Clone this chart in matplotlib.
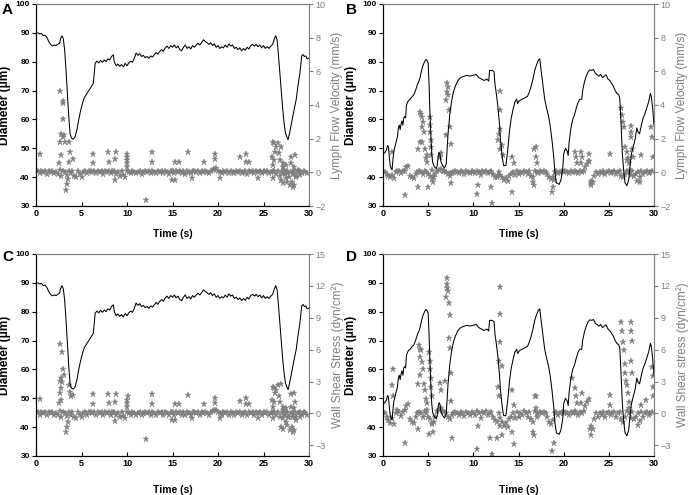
import numpy as np
import matplotlib
matplotlib.use("Agg")
import matplotlib.pyplot as plt

plt.rcParams['font.family'] = ['Liberation Sans', 'DejaVu Sans']

# ---------------- Diameter traces (um) ----------------
diamA_t = [0.2,0.4,0.6,0.8,1.0,1.2,1.4,1.6,1.8,2.0,2.2,2.4,2.6,2.7,2.85,3.0,3.15,3.3,3.45,3.6,3.75,3.9,4.1,4.3,4.5,4.7,4.9,5.1,5.3,5.5,5.7,5.9,6.1,6.3,6.4,6.5,6.7,6.9,7.1,7.3,7.5,7.7,7.9,8.1,8.3,8.5,8.6,8.8,9.0,9.2,9.4,9.6,9.8,10.0,10.2,10.4,10.6,10.8,11.0,11.2,11.4,11.6,11.8,12.0,12.2,12.4,12.6,12.8,13.0,13.2,13.4,13.6,13.8,14.0,14.2,14.4,14.6,14.8,15.0,15.2,15.4,15.6,15.8,16.0,16.2,16.4,16.6,16.8,17.0,17.2,17.4,17.6,17.8,18.0,18.2,18.4,18.6,18.8,19.0,19.2,19.4,19.6,19.8,20.0,20.2,20.4,20.6,20.8,21.0,21.2,21.4,21.6,21.8,22.0,22.2,22.4,22.6,22.8,23.0,23.2,23.4,23.6,23.8,24.0,24.2,24.4,24.6,24.8,25.0,25.2,25.4,25.6,25.8,26.0,26.2,26.35,26.5,26.65,26.8,26.95,27.1,27.25,27.4,27.55,27.7,27.85,28.0,28.2,28.4,28.6,28.8,29.0,29.1,29.2,29.35,29.5,29.65,29.8,29.95]
diamA_v = [90.0,89.6,89.8,89.0,89.2,88.4,87.0,86.0,85.5,85.8,85.6,86.0,86.5,88.0,89.0,88.0,84.0,77.0,69.0,61.0,55.0,53.5,53.2,54.0,56.5,60.0,63.0,65.5,67.5,68.5,69.5,70.5,71.5,72.5,76.0,79.5,80.2,79.6,80.5,79.8,80.6,80.0,81.0,80.6,81.8,82.4,80.0,78.6,79.2,78.4,79.0,78.2,79.4,78.6,79.6,80.2,79.8,81.2,83.0,82.2,82.8,81.8,82.2,81.4,81.8,81.2,82.0,81.6,82.4,83.2,82.6,83.6,84.2,83.6,84.8,85.4,84.6,85.6,85.0,85.8,84.8,85.4,84.2,83.8,85.0,85.8,84.6,85.2,84.4,85.6,85.0,85.8,86.4,85.8,86.6,87.6,87.0,86.6,86.0,86.6,85.6,86.2,85.0,85.6,84.6,85.2,84.8,85.8,85.0,86.2,85.4,85.8,84.6,85.0,84.2,84.8,83.8,84.6,84.0,85.0,84.4,85.6,86.0,85.4,86.0,85.2,85.8,84.8,85.6,84.6,85.2,84.6,85.4,86.0,88.0,89.0,87.5,82.0,76.0,70.0,64.0,59.0,55.5,54.0,53.0,55.0,57.5,61.0,64.0,67.0,72.0,76.0,79.0,82.0,82.5,81.8,82.0,81.0,81.2]

diamB_t = [0.0,0.2,0.4,0.5,0.6,0.7,0.8,0.9,1.0,1.1,1.2,1.4,1.6,1.7,1.8,1.9,2.0,2.1,2.2,2.3,2.4,2.5,2.6,2.8,3.0,3.2,3.4,3.6,3.8,4.0,4.1,4.2,4.4,4.6,4.75,4.9,5.0,5.1,5.2,5.3,5.4,5.5,5.7,5.9,6.0,6.1,6.2,6.3,6.4,6.6,6.8,7.0,7.1,7.2,7.4,7.6,7.8,8.0,8.3,8.6,9.0,9.3,9.6,10.0,10.3,10.6,10.9,11.2,11.5,11.7,11.8,12.1,12.3,12.4,12.5,12.7,12.9,13.0,13.2,13.35,13.6,13.8,14.0,14.2,14.4,14.6,14.8,14.9,15.1,15.4,15.7,16.0,16.2,16.4,16.6,16.8,17.0,17.2,17.35,17.5,17.7,17.9,18.1,18.3,18.5,18.7,18.9,19.05,19.2,19.5,19.7,19.9,20.0,20.2,20.4,20.5,20.6,20.8,21.0,21.2,21.4,21.6,21.8,22.0,22.1,22.3,22.5,22.7,22.9,23.1,23.3,23.5,23.7,23.9,24.1,24.3,24.5,24.7,24.9,25.1,25.3,25.5,25.7,25.9,26.1,26.2,26.3,26.4,26.5,26.65,26.8,27.0,27.2,27.35,27.5,27.7,27.9,28.1,28.25,28.4,28.6,28.8,29.0,29.2,29.4,29.6,29.7,29.85,30.0]
diamB_v = [48.0,48.5,49.5,51.0,50.5,47.0,44.0,43.0,42.5,46.0,49.0,51.5,54.0,57.0,58.0,56.5,58.5,59.5,58.0,60.5,61.0,60.5,65.0,66.5,67.0,67.8,68.5,70.0,72.0,73.5,74.5,76.0,78.5,80.0,80.8,80.3,79.5,72.0,62.0,54.0,48.0,45.0,43.5,43.0,44.0,47.0,48.5,48.0,45.5,44.0,43.2,44.5,50.0,55.0,62.0,66.5,69.5,71.5,73.5,74.5,75.0,75.3,75.0,75.3,75.6,74.5,74.0,73.5,74.0,73.3,77.0,77.0,76.5,72.0,70.0,65.0,58.0,53.0,47.0,44.0,44.0,49.0,56.0,60.5,63.5,66.0,67.0,65.5,66.5,67.0,67.5,68.0,69.5,71.5,74.0,77.0,79.0,80.5,81.0,77.0,72.0,67.0,64.0,61.5,58.0,53.0,47.0,41.0,38.0,37.5,39.0,43.0,48.0,50.0,49.0,47.5,52.0,57.0,60.0,61.5,64.0,66.0,67.0,67.0,70.0,73.0,75.0,76.5,77.2,77.0,77.3,76.0,75.5,75.0,75.6,74.5,75.0,75.5,74.0,73.5,72.5,71.5,70.0,69.0,68.5,67.5,62.0,55.0,48.0,42.0,38.0,37.0,39.0,44.0,48.0,50.5,53.0,57.0,55.5,55.0,58.0,60.5,62.0,64.0,66.0,69.0,68.0,64.0,58.0]

# ---------------- Baseline samples (every 0.2 s, 0.2 .. 29.8 s) ----------------
base_t = np.round(np.arange(0.2, 29.81, 0.2), 1)

velA_base = [0.05,-0.05,0.1,0.0,0.08,-0.08,0.05,0.0,0.1,-0.05,
             0.0,-0.1,0.15,-0.2,0.1,0.0,-0.15,0.1,-0.05,0.05,
             -0.2,-0.3,0.05,-0.1,-0.25,0.0,0.1,-0.05,0.05,0.08,
             0.0,0.1,-0.05,0.05,0.0,0.1,-0.1,0.05,0.0,0.08,
             -0.05,0.05,0.1,-0.1,0.0,-0.2,0.05,-0.15,-0.3,0.1,
             0.0,-0.05,0.05,0.0,-0.05,0.0,0.05,-0.1,0.0,0.05,
             0.0,0.05,-0.05,0.1,0.0,-0.05,0.05,0.0,0.08,-0.05,
             0.05,0.0,-0.1,0.1,0.05,-0.05,0.1,0.0,0.05,-0.05,
             0.05,-0.1,0.1,0.0,-0.05,0.05,0.1,0.0,0.05,-0.05,
             0.05,0.0,0.1,0.0,-0.05,0.05,0.15,0.2,0.25,0.1,
             0.0,-0.05,0.05,0.0,0.1,-0.05,0.05,0.0,-0.05,0.05,
             0.0,0.05,-0.05,0.0,0.05,-0.1,0.05,0.0,0.1,-0.05,
             0.05,0.0,0.05,-0.05,0.1,0.0,0.05,-0.05,0.0,0.05,
             0.1,-0.1,0.05,-0.2,0.0,0.15,-0.1,0.05,-0.25,0.0,
             -0.1,0.05,-0.2,0.0,0.1,-0.05,0.05,0.0,-0.05]

velB_base = [0.0,-0.1,-0.2,-0.3,-0.15,-0.35,0.0,0.1,0.05,-0.05,
             0.05,0.1,0.3,0.4,-0.2,-0.3,-0.35,-0.1,0.0,0.05,
             0.0,-0.1,0.1,0.0,-0.1,-0.2,-0.4,-0.3,-0.1,0.1,
             0.15,0.2,0.1,0.05,0.0,-0.1,-0.2,-0.05,0.0,0.05,
             0.0,-0.05,0.05,0.0,-0.1,0.05,0.0,-0.05,0.05,0.0,
             -0.05,0.1,0.0,-0.15,0.05,0.0,0.1,-0.05,0.0,0.05,
             -0.1,-0.25,-0.3,0.0,-0.15,-0.3,-0.45,-0.35,-0.5,-0.2,
             -0.1,0.0,-0.15,0.05,-0.1,0.0,-0.05,0.1,0.0,-0.1,
             0.05,-0.2,-0.3,0.1,0.0,-0.05,0.05,0.0,0.05,0.0,
             -0.1,-0.3,-0.4,-0.25,0.0,0.05,-0.05,0.0,0.05,0.0,
             0.05,0.0,-0.05,0.05,0.0,0.1,0.0,-0.05,0.05,0.0,
             0.1,0.3,0.5,0.7,-0.5,-0.6,-0.2,0.0,-0.1,0.0,
             -0.05,0.05,-0.1,0.0,0.05,-0.05,0.0,0.05,-0.1,0.0,
             0.05,-0.2,-0.3,-0.1,0.1,0.0,-0.15,0.05,-0.2,-0.1,
             0.0,-0.25,0.05,-0.1,0.0,0.05,-0.05,0.0,0.05]

wssC_base = [0.1,-0.1,0.15,0.0,0.1,-0.1,0.1,0.0,0.15,-0.1,
             0.0,-0.15,0.2,-0.3,0.15,0.0,-0.2,0.15,-0.1,0.1,
             -0.3,-0.45,0.1,-0.15,-0.35,0.0,0.15,-0.1,0.1,0.1,
             0.0,0.15,-0.1,0.1,0.0,0.15,-0.15,0.1,0.0,0.1,
             -0.1,0.1,0.15,-0.15,0.0,-0.3,0.1,-0.2,-0.45,0.15,
             0.0,-0.1,0.1,0.0,-0.1,0.0,0.1,-0.15,0.0,0.1,
             0.0,0.1,-0.1,0.15,0.0,-0.1,0.1,0.0,0.1,-0.1,
             0.1,0.0,-0.15,0.15,0.1,-0.1,0.15,0.0,0.1,-0.1,
             0.1,-0.15,0.15,0.0,-0.1,0.1,0.15,0.0,0.1,-0.1,
             0.1,0.0,0.15,0.0,-0.1,0.1,0.2,0.3,0.35,0.15,
             0.0,-0.1,0.1,0.0,0.15,-0.1,0.1,0.0,-0.1,0.1,
             0.0,0.1,-0.1,0.0,0.1,-0.15,0.1,0.0,0.15,-0.1,
             0.1,0.0,0.1,-0.1,0.15,0.0,0.1,-0.1,0.0,0.1,
             0.15,-0.15,0.1,-0.3,0.0,0.2,-0.15,0.1,-0.35,0.0,
             -0.15,0.1,-0.3,0.0,0.15,-0.1,0.1,0.0,-0.1]

wssD_base = [0.0,-0.3,-0.6,-0.9,-0.4,-1.0,0.0,0.3,0.1,-0.2,
             0.1,0.3,0.7,0.9,-0.5,-0.8,-0.9,-0.3,0.0,0.1,
             0.0,-0.3,0.2,0.0,-0.3,-0.5,-1.0,-0.8,-0.3,0.2,
             0.3,0.5,0.2,0.1,0.0,-0.3,-0.5,-0.1,0.0,0.1,
             0.0,-0.1,0.15,0.0,-0.25,0.1,0.0,-0.15,0.1,0.0,
             -0.1,0.25,0.0,-0.4,0.1,0.0,0.25,-0.1,0.0,0.1,
             -0.3,-0.6,-0.8,0.0,-0.4,-0.8,-1.2,-0.9,-1.3,-0.5,
             -0.3,0.0,-0.4,0.1,-0.3,0.0,-0.1,0.25,0.0,-0.3,
             0.1,-0.5,-0.8,0.25,0.0,-0.1,0.1,0.0,0.1,0.0,
             -0.3,-0.8,-1.0,-0.6,0.0,0.1,-0.1,0.0,0.1,0.0,
             0.1,0.0,-0.1,0.1,0.0,0.25,0.0,-0.1,0.1,0.0,
             0.25,0.7,1.1,1.4,-1.2,-1.5,-0.5,0.0,-0.3,0.0,
             -0.1,0.1,-0.3,0.0,0.1,-0.1,0.0,0.1,-0.3,0.0,
             0.1,-0.5,-0.8,-0.3,0.25,0.0,-0.4,0.1,-0.5,-0.3,
             0.0,-0.7,0.1,-0.3,0.0,0.1,-0.1,0.0,0.1]

# ---------------- Off-baseline points ----------------
velA_pk_t = [0.4,2.63,2.93,3.0,2.93,2.74,2.93,2.63,3.1,3.2,2.8,2.56,3.6,3.7,3.66,4.1,3.48,3.37,3.33,6.3,6.3,7.94,8.0,8.75,8.67,8.67,9.95,9.95,9.95,9.95,10.05,12.07,12.77,12.8,15.26,15.7,16.65,14.9,15.26,17.1,18.5,19.65,19.65,20.2,22.47,23.1,23.1,23.4,24.4,26.0,
             26.05,26.2,26.4,26.6,26.3,26.15,26.05,25.9,26.7,26.97,26.8,27.1,27.15,27.3,27.1,26.9,27.15,27.45,27.6,27.9,28.1,28.25,28.4,28.2,28.0,28.05,28.5,28.36,28.6,28.8,29.0,27.5,27.7]
velA_pk_v = [1.1,4.83,4.26,4.1,3.15,2.3,2.1,1.8,2.2,1.8,1.0,0.53,1.8,1.2,0.6,0.77,-0.4,-0.71,-1.05,1.09,0.53,1.19,0.6,1.19,0.77,-0.46,0.93,0.73,0.53,0.34,1.1,-1.64,1.19,0.6,0.6,0.6,1.19,-0.46,-0.46,-0.32,0.6,1.09,0.77,-0.32,0.89,1.09,0.6,0.6,-0.32,-0.32,
             1.8,1.72,1.52,1.76,1.23,0.73,0.44,0.93,1.13,1.52,0.73,0.53,0.34,0.14,-0.06,-0.46,-0.65,-0.36,-0.55,-0.75,-0.55,-0.85,-0.75,-0.06,0.89,0.53,1.03,0.34,-0.26,0.14,-0.16,0.44,-0.06]

wssC_pk_t = [0.44,2.63,2.9,3.0,2.8,2.63,2.9,3.07,2.74,2.63,2.74,2.56,3.6,3.7,3.84,4.1,3.55,3.44,3.33,6.3,6.3,7.94,8.0,8.75,8.67,8.67,10.06,10.02,9.98,9.95,12.07,12.77,12.8,15.26,15.7,16.65,14.9,15.26,17.1,18.5,19.65,19.65,20.2,22.47,23.1,23.1,23.4,24.4,26.0,
             26.05,26.2,26.4,26.6,26.3,26.15,26.05,25.9,26.7,26.97,26.8,27.1,27.15,27.3,27.1,26.9,27.15,27.45,27.6,27.9,28.1,28.25,28.4,28.2,28.0,28.36,28.05,28.5,28.36,28.6,28.8,29.0,27.5,27.7]
wssC_pk_v = [1.4,6.5,5.8,4.2,3.3,3.1,3.0,3.6,2.4,1.9,1.3,0.95,2.7,2.05,1.6,1.75,-0.8,-1.25,-1.7,1.8,0.9,1.8,0.95,1.8,1.1,-0.7,1.6,1.3,0.95,0.64,-2.43,1.8,0.9,0.9,0.9,1.7,-0.6,-0.6,-0.45,0.9,1.5,1.0,-0.45,1.2,1.5,0.9,0.9,-0.45,-0.45,
             2.5,2.4,2.2,2.7,1.9,1.1,0.6,1.25,1.6,2.8,1.1,0.6,0.3,-0.05,-0.45,-1.25,-1.5,-0.8,-1.1,-1.55,-1.25,-1.7,-1.55,-0.3,1.8,1.9,0.6,1.1,0.5,-0.6,0.0,-0.3,0.5,-0.3]

velB_pk_t = [1.0,2.44,4.06,4.17,4.3,4.43,4.3,4.5,4.06,4.35,4.65,4.72,4.83,4.9,3.9,3.87,5.0,5.17,5.17,5.2,5.28,5.28,5.35,5.46,5.57,5.5,6.38,6.3,
             6.94,7.0,7.05,7.12,7.2,7.23,7.3,7.38,7.5,7.4,7.56,12.9,13.0,13.0,12.84,12.77,12.95,13.17,13.3,12.7,14.3,14.5,14.3,10.44,10.5,12.0,12.03,
             16.7,16.9,16.9,17.0,16.57,16.7,18.75,18.85,18.95,21.25,21.4,21.95,22.07,21.9,21.5,22.8,22.85,23.0,23.05,25.1,
             26.4,26.5,26.6,26.7,26.8,27.05,27.1,27.2,27.0,27.35,27.5,27.5,27.4,27.6,27.7,28.6,28.15,28.45,29.7,29.8,29.9]
velB_pk_v = [1.23,-1.35,3.6,3.47,3.3,3.0,2.7,2.4,1.8,1.8,1.4,0.83,1.03,0.63,1.4,-0.85,-0.9,3.3,2.8,2.4,1.9,1.5,1.03,0.14,-0.26,-0.55,1.13,0.93,
             2.2,4.3,4.8,5.3,5.05,4.6,3.7,2.7,1.7,-0.06,-0.65,4.85,3.7,2.6,2.3,1.9,1.4,1.6,1.03,-0.16,0.93,0.53,-1.15,-1.3,-0.75,-0.9,-1.8,
             1.4,1.5,0.93,0.53,-0.55,-0.75,-1.15,-0.85,-0.46,1.23,0.93,1.23,0.9,0.53,0.53,1.1,0.7,-0.65,-0.75,1.07,
             3.8,3.4,3.0,2.7,1.5,1.23,0.83,0.53,0.73,0.14,2.75,2.4,2.1,1.4,0.93,1.03,-0.5,-0.55,2.7,2.1,0.93]

wssD_pk_t = [1.07,1.0,1.1,2.44,3.97,4.1,4.2,4.15,4.35,4.45,4.1,4.5,3.9,4.6,4.75,4.87,4.9,3.9,5.1,5.1,5.2,5.2,5.28,5.35,5.4,5.45,5.5,6.4,6.3,
             6.86,6.97,7.05,7.1,7.1,7.2,7.3,7.4,7.35,7.4,7.5,7.55,7.6,10.44,10.5,11.9,12.1,12.66,12.84,12.95,13.0,13.0,13.17,12.84,12.77,13.0,13.2,
             14.3,14.5,14.5,14.3,16.8,16.97,16.97,17.1,16.6,16.7,18.75,18.9,20.9,21.25,21.4,21.98,21.9,21.5,22.9,23.0,25.1,25.1,
             26.4,26.5,26.55,26.7,26.8,26.8,26.9,27.0,27.1,27.2,27.2,27.4,27.5,27.56,27.5,27.55,28.6,28.2,29.07,29.8,29.9,29.9,29.9]
wssD_pk_v = [4.2,2.7,1.6,-2.75,6.4,6.1,6.0,5.3,4.8,4.2,3.6,2.8,2.8,2.2,1.4,0.94,0.3,-1.5,-1.9,5.8,4.9,4.2,3.3,2.5,1.6,-0.9,-1.7,2.2,2.9,
             3.1,11.0,11.8,12.7,12.2,11.5,10.4,9.3,7.1,6.2,3.8,1.2,-2.3,-3.3,-1.2,-2.3,-3.85,-2.3,4.9,11.9,9.4,6.7,4.5,1.6,2.5,-1.2,-2.0,
             2.2,0.8,-2.9,-1.7,1.6,1.6,0.5,-0.3,-1.7,-2.0,-3.5,-2.8,3.3,2.4,1.6,1.9,1.0,1.0,-1.5,-2.0,1.7,0.8,
             8.6,7.8,6.75,6.0,4.7,3.8,3.1,2.7,1.9,1.1,0.5,8.6,7.8,6.85,4.9,3.8,0.8,-1.1,1.3,4.4,3.5,2.5,1.6]

x_ticks = [0, 5, 10, 15, 20, 25, 30]
diam_ticks = [30, 40, 50, 60, 70, 80, 90, 100]
vel_ticks = [-2, 0, 2, 4, 6, 8, 10]
wss_ticks = [-3, 0, 3, 6, 9, 12, 15]

GRAY = '#7f7f7f'
W, H = 688.0, 495.0

fig = plt.figure(figsize=(6.88, 4.95), dpi=100)

panels = [
    ('A', (36, 309, 4, 206), diamA_t, diamA_v, velA_base, velA_pk_t, velA_pk_v,
     (-2, 10), vel_ticks, 'Lymph Flow Velocity (mm/s)', 11, 331, 229, (2, 10)),
    ('B', (383, 654, 4, 206), diamB_t, diamB_v, velB_base, velB_pk_t, velB_pk_v,
     (-2, 10), vel_ticks, 'Lymph Flow Velocity (mm/s)', 357, 676, 229, (346, 10)),
    ('C', (36, 309, 254, 456), diamA_t, diamA_v, wssC_base, wssC_pk_t, wssC_pk_v,
     (-4, 15), wss_ticks, 'Wall Shear Stress (dyn/cm\u00b2)', 11, 331, 485, (2, 257)),
    ('D', (383, 654, 254, 456), diamB_t, diamB_v, wssD_base, wssD_pk_t, wssD_pk_v,
     (-4, 15), wss_ticks, 'Wall Shear stress (dyn/cm\u00b2)', 357, 676, 485, (346, 257)),
]

for (letter, box, dt, dv, base, pkt, pkv, rlim, rticks, rlabel,
     lab_l, lab_r, lab_b, letter_xy) in panels:
    l, r, t, b = box
    ax = fig.add_axes([l / W, 1 - b / H, (r - l) / W, (b - t) / H])
    ax2 = ax.twinx()
    ax.set_zorder(ax2.get_zorder() + 1)
    ax.patch.set_visible(False)

    ax2.plot(np.concatenate([base_t, pkt]), np.concatenate([base, pkv]),
             linestyle='none', marker='*', markersize=4.8, color=GRAY,
             markeredgewidth=0.3, markeredgecolor=GRAY)
    ax.plot(dt, dv, color='black', linewidth=0.75)

    ax.set_xlim(0, 30)
    ax.set_ylim(30, 100)
    ax2.set_ylim(*rlim)
    ax.set_xticks(x_ticks)
    ax.set_yticks(diam_ticks)
    ax2.set_yticks(rticks)

    for s in ['left', 'bottom']:
        ax.spines[s].set_color('black')
        ax.spines[s].set_linewidth(0.8)
    for a in (ax, ax2):
        a.spines['top'].set_color(GRAY)
        a.spines['top'].set_linewidth(0.8)
        a.spines['right'].set_color(GRAY)
        a.spines['right'].set_linewidth(0.8)

    ax.tick_params(axis='y', direction='out', length=3, width=0.8, labelsize=6, pad=1.5)
    ax.tick_params(axis='x', direction='in', length=3, width=0.8, labelsize=6.5, pad=2.5)
    ax2.tick_params(axis='y', direction='out', length=3, width=0.8, colors=GRAY,
                    labelsize=6.5, pad=1.5)
    for lab in ax.get_xticklabels() + ax.get_yticklabels():
        lab.set_fontweight('bold')

    ax.set_ylabel('Diameter (\u03bcm)', fontsize=8.5, fontweight='bold')
    ax.yaxis.set_label_coords((lab_l - l) / (r - l), 0.5)
    ax.set_xlabel('Time (s)', fontsize=7.5, fontweight='bold')
    ax.xaxis.set_label_coords(0.5, (b - lab_b) / (b - t))
    ax2.set_ylabel(rlabel, fontsize=8.5, color=GRAY)
    ax2.yaxis.set_label_coords((lab_r - l) / (r - l), 0.5)

    fig.text(letter_xy[0] / W, 1 - letter_xy[1] / H, letter,
             fontsize=11, fontweight='bold', ha='left', va='center')

fig.savefig('out.png', dpi=100)
